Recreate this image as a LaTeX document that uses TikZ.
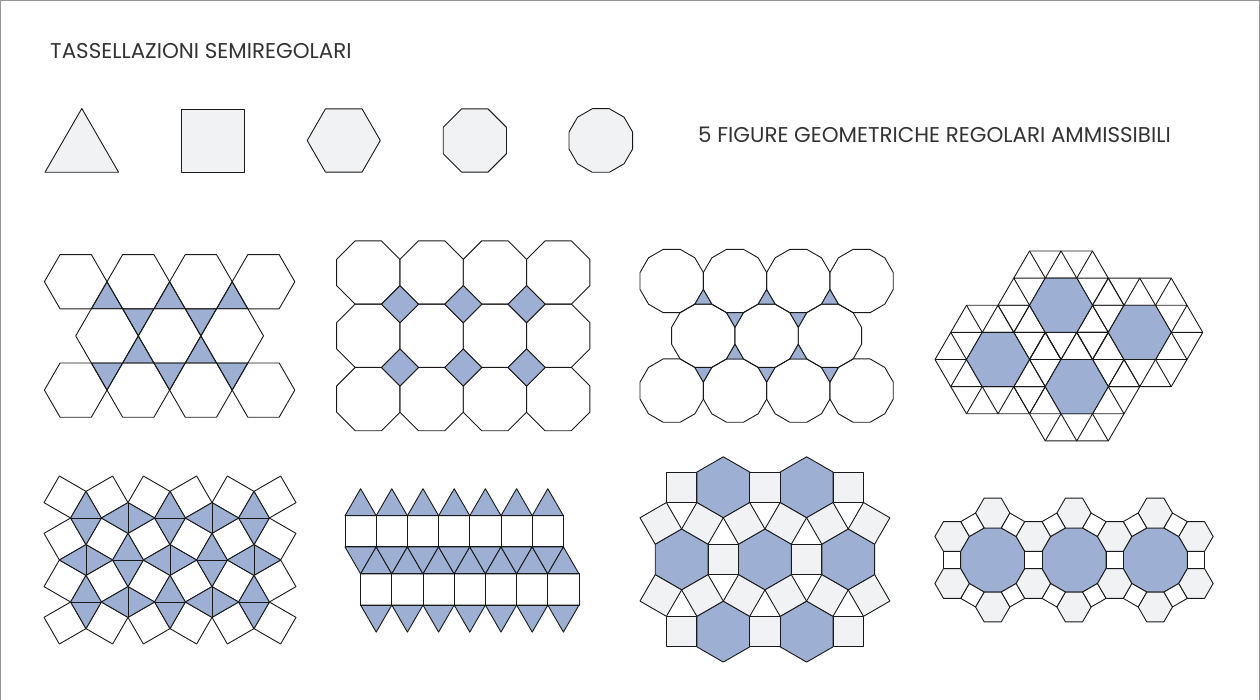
\documentclass[tikz,border=0pt]{standalone}
\usepackage{fontspec}
\setmainfont{Poppins}
\usepackage{tikz}
\definecolor{tileblue}{RGB}{157,176,212}
\definecolor{tilegray}{RGB}{241,242,244}
\definecolor{framegray}{RGB}{150,150,150}
\tikzset{
  tile/.style    = {draw=black!90, line width=0.9pt, line join=round},
  blu/.style     = {tile, fill=tileblue},
  grigio/.style  = {tile, fill=tilegray},
  bianco/.style  = {tile, fill=white},
  scritta/.style = {font=\fontsize{21.4}{24}\selectfont, text=black!80, inner sep=0pt},
}
% regular polygon: [style]{centre}{sides}{radius}{start angle}
\newcommand{\poligono}[5][]{%
  \pgfmathtruncatemacro{\nlati}{#3-1}%
  \draw[shift={(#2)}, #1] ({#5}:{#4}) \foreach \lato in {1,...,\nlati}{ -- ({#5+\lato*360/#3}:{#4})} -- cycle;}

\begin{document}
\begin{tikzpicture}[x=1pt, y=-1pt]
  \useasboundingbox (0,0) rectangle (1260,700);
  \draw[framegray, line width=1pt] (0.5,700) -- (0.5,0.5) -- (1259.5,0.5) -- (1259.5,700);

  \node[scritta, anchor=base west] (titolo) at (50,59) {TASSELLAZIONI SEMIREGOLARI};
  \node[scritta, anchor=base west] (figure) at (698,143) {5 FIGURE GEOMETRICHE REGOLARI AMMISSIBILI};

  % the five admissible polygons
  \poligono[grigio]{81.8,151}{3}{42.5}{-90}
  \draw[grigio] (181,109) rectangle (244.7,172);
  \poligono[grigio]{343.75,140.5}{6}{36.55}{0}
  \poligono[grigio]{474.85,140.5}{8}{34.26}{22.5}
  \poligono[grigio]{600.8,140.5}{12}{32.92}{15}

  % 3.6.3.6
  \foreach \k in {0,1,2} {
    \draw[blu] ({107+62.6*\k},281.7) -- ++(15.65,27.1) -- ++(-31.3,0) -- cycle;
    \draw[blu] ({107+62.6*\k},390.1) -- ++(15.65,-27.1) -- ++(-31.3,0) -- cycle;
  }
  \foreach \k in {0,1} {
    \draw[blu] ({138.3+62.6*\k},335.9) -- ++(15.65,-27.1) -- ++(-31.3,0) -- cycle;
    \draw[blu] ({138.3+62.6*\k},335.9) -- ++(15.65,27.1) -- ++(-31.3,0) -- cycle;
  }
  \foreach \k in {0,...,3} {
    \poligono[tile]{{75.7+62.6*\k},281.7}{6}{31.3}{0}
    \poligono[tile]{{75.7+62.6*\k},390.1}{6}{31.3}{0}
  }
  \foreach \k in {0,1,2} {\poligono[tile]{{107+62.6*\k},335.9}{6}{31.3}{0}}

  % 4.8.8
  \foreach \i in {0,...,3} {
    \foreach \j in {0,1,2} {\poligono[tile]{{368.3+63.3*\i},{272.5+63.3*\j}}{8}{34.28}{22.5}}
  }
  \foreach \i in {0,1,2} {
    \foreach \j in {0,1} {\poligono[blu]{{400+63.3*\i},{304.2+63.3*\j}}{4}{18.54}{0}}
  }

  % 3.12.12
  \foreach \i in {0,...,3} {
    \poligono[tile]{{671.7+63.3*\i},281}{12}{32.78}{15}
    \poligono[tile]{{671.7+63.3*\i},390.6}{12}{32.78}{15}
  }
  \foreach \i in {0,1,2} {
    \poligono[tile]{{703.3+63.3*\i},335.8}{12}{32.78}{15}
    \poligono[blu]{{703.3+63.3*\i},299.3}{3}{9.8}{-90}
    \poligono[blu]{{703.3+63.3*\i},372.3}{3}{9.8}{90}
  }
  \foreach \i in {0,1} {
    \poligono[blu]{{735+63.3*\i},317.5}{3}{9.8}{90}
    \poligono[blu]{{735+63.3*\i},354.1}{3}{9.8}{-90}
  }

  % 3.3.3.3.6 on a triangular grid
  \begin{scope}[shift={(935,251)}, x=15.75pt, y=-27.13pt]
    \foreach \k/\j in {8/2, 13/3, 4/4, 9/5} {
      \begin{scope}[shift={(\k,\j)}]
        \draw[tile] (4,0) -- (2,2) -- (-2,2) -- (-4,0) -- (-2,-2) -- (2,-2) -- cycle;
        \draw[tile] (-4,0) -- (4,0) (-2,-2) -- (2,2) (2,-2) -- (-2,2);
        \draw[tile] (3,1) -- (-3,1) -- (0,-2) -- cycle (3,-1) -- (-3,-1) -- (0,2) -- cycle;
      \end{scope}
    }
    \foreach \k/\j in {8/2, 13/3, 4/4, 9/5} {
      \draw[blu, shift={(\k,\j)}] (2,0) -- (1,1) -- (-1,1) -- (-2,0) -- (-1,-1) -- (1,-1) -- cycle;
    }
  \end{scope}

  % 3.3.4.3.4
  \begin{scope}[shift={(86,518)}]
    \foreach \i in {-1,...,4} {
      \foreach \j in {-1,...,2} {
        \pgfmathtruncatemacro{\pari}{mod(\i+\j+2,2)}
        \begin{scope}[shift={(42*\i,42*\j)}]
          \ifnum\pari=0
            \draw[tile] (15.37,0) -- (42,15.37) -- (26.63,42) -- (0,26.63) -- cycle;
          \else
            \draw[tile] (26.63,0) -- (42,26.63) -- (15.37,42) -- (0,15.37) -- cycle;
          \fi
        \end{scope}
      }
    }
    \foreach \i in {0,...,4} {
      \foreach \j in {0,1,2} {
        \pgfmathtruncatemacro{\pari}{mod(\i+\j,2)}
        \begin{scope}[shift={(42*\i,42*\j)}]
          \ifnum\pari=0
            \draw[blu] (0,-26.63) -- (15.37,0) -- (0,26.63) -- (-15.37,0) -- cycle;
            \draw[tile] (-15.37,0) -- (15.37,0);
          \else
            \draw[blu] (-26.63,0) -- (0,-15.37) -- (26.63,0) -- (0,15.37) -- cycle;
            \draw[tile] (0,-15.37) -- (0,15.37);
          \fi
        \end{scope}
      }
    }
  \end{scope}

  % 3.3.3.4.4
  \foreach \i in {0,...,6} {
    \draw[blu] ({345+31.2*\i},515.7) -- ++(31.2,0) -- ++(-15.6,-27) -- cycle;
    \draw[blu] ({345+31.2*\i},546.9) -- ++(31.2,0) -- ++(-15.6,27) -- cycle;
    \draw[blu] ({360.6+31.2*\i},573.9) -- ++(31.2,0) -- ++(-15.6,-27) -- cycle;
    \draw[blu] ({360.6+31.2*\i},605.1) -- ++(31.2,0) -- ++(-15.6,27) -- cycle;
    \draw[tile] ({345+31.2*\i},515.7) rectangle ++(31.2,31.2);
    \draw[tile] ({360.6+31.2*\i},573.9) rectangle ++(31.2,31.2);
  }

  % 3.4.6.4
  \foreach \i in {0,1} {
    \poligono[blu]{{723.3+83.3*\i},487.3}{6}{30.5}{30}
    \poligono[blu]{{723.3+83.3*\i},631.6}{6}{30.5}{30}
    \poligono[grigio]{{723.3+83.3*\i},559.4}{4}{21.57}{45}
  }
  \foreach \i in {0,1,2} {
    \poligono[blu]{{681.65+83.3*\i},559.4}{6}{30.5}{30}
    \poligono[grigio]{{681.65+83.3*\i},487.3}{4}{21.57}{45}
    \poligono[grigio]{{681.65+83.3*\i},631.6}{4}{21.57}{45}
  }
  \foreach \k in {0,...,5} {
    \pgfmathsetmacro{\su}{60+60*mod(\k,2)}
    \pgfmathsetmacro{\giu}{120-60*mod(\k,2)}
    \poligono[grigio]{{660.8+41.65*\k},523.35}{4}{21.57}{\su+45}
    \poligono[grigio]{{660.8+41.65*\k},595.5}{4}{21.57}{\giu+45}
  }

  % 4.6.12
  \foreach \i in {0,1,2} {
    \poligono[blu]{{992.7+81.3*\i},560}{12}{33.19}{15}
    \poligono[grigio]{{992.7+81.3*\i},513.07}{6}{17.18}{0}
    \poligono[grigio]{{992.7+81.3*\i},606.93}{6}{17.18}{0}
    \foreach \t in {60,120,240,300} {
      \poligono[bianco]{{992.7+81.3*\i+40.65*cos(\t)},{560+40.65*sin(\t)}}{4}{12.15}{\t+45}
    }
  }
  \foreach \m in {0,...,3} {
    \poligono[grigio]{{952.05+81.3*\m},536.53}{6}{17.18}{0}
    \poligono[grigio]{{952.05+81.3*\m},583.47}{6}{17.18}{0}
    \poligono[bianco]{{952.05+81.3*\m},560}{4}{12.15}{45}
  }
\end{tikzpicture}
\end{document}
